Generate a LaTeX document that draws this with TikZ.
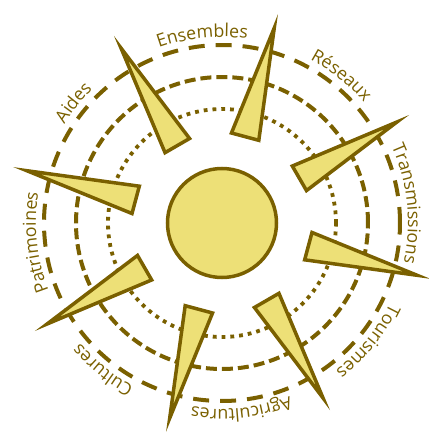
\documentclass[tikz,border=0pt]{standalone}
\usepackage{fontspec}
\setmainfont{Open Sans}
\usepackage{xcolor}
\usepackage{tikz}
\usetikzlibrary{decorations.text}

\definecolor{sunline}{HTML}{7A6000}
\definecolor{sunfill}{HTML}{EDE077}
\newcommand{\lblfont}{\fontsize{17.8}{19}\selectfont\color{sunline}}

\begin{document}
\begin{tikzpicture}[
      ring/.style   = {draw=sunline, line width=4pt},
      outer/.style  = {ring, dash pattern=on 16pt off 11pt},
      middle/.style = {ring, dash pattern=on 11pt off 5pt},
      inner/.style  = {ring, line width=3.8pt, dash pattern=on 3.8pt off 5pt},
      spike/.style  = {draw=sunline, fill=sunfill, line width=3.5pt, line join=miter},
      core/.style   = {circle, draw=sunline, fill=sunfill, line width=3.5pt,
                       minimum size=109pt, inner sep=0pt},
      lbl/.style    = {decorate, decoration={text along path, text align=center,
                       text={|\lblfont|#1}}},
    ]
    \useasboundingbox (-222pt,-209pt) rectangle (207pt,223pt);
    \coordinate (c) at (0,0);

    % rings
    \draw[outer]  (c) circle[radius=178pt];
    \draw[middle] (c) circle[radius=146pt];
    \draw[inner]  (c) circle[radius=114pt];

    % rays
    \foreach \a in {30,75,...,345}
      \draw[spike] (\a:202pt) -- (\a+9:90.5pt) -- (\a-9:90.5pt) -- cycle;

    \node[core] (sun) at (c) {};

    % labels, clockwise
    \path[lbl=Ensembles]     (156:186pt)  arc[start angle=156,  end angle=36,   radius=186pt];
    \path[lbl=Réseaux]       (111:186pt)  arc[start angle=111,  end angle=-9,   radius=186pt];
    \path[lbl=Transmissions] (66:186pt)   arc[start angle=66,   end angle=-54,  radius=186pt];
    \path[lbl=Tourismes]     (21:186pt)   arc[start angle=21,   end angle=-99,  radius=186pt];
    \path[lbl=Agricultures]  (-24:186pt)  arc[start angle=-24,  end angle=-144, radius=186pt];
    \path[lbl=Cultures]      (-69:186pt)  arc[start angle=-69,  end angle=-189, radius=186pt];
    \path[lbl=Patrimoines]   (-114:186pt) arc[start angle=-114, end angle=-234, radius=186pt];
    \path[lbl=Aides]         (201:186pt)  arc[start angle=201,  end angle=81,   radius=186pt];
\end{tikzpicture}
\end{document}
